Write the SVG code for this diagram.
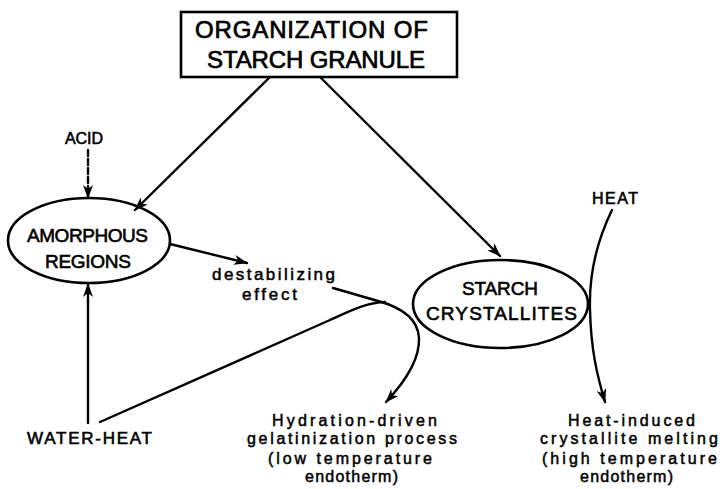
<svg xmlns="http://www.w3.org/2000/svg" width="720" height="489" viewBox="0 0 720 489">
<defs>
<marker id="ah" viewBox="0 0 14 10" refX="13" refY="5" markerWidth="14" markerHeight="10" markerUnits="userSpaceOnUse" orient="auto">
<path d="M0,0 L14,5 L0,10 L4,5 z" fill="#000"/>
</marker>
<style>
.l{font-family:"Liberation Sans",Arial,sans-serif;fill:#000;stroke:#000;stroke-width:0.6}
.h{stroke-width:0.7}
.w{stroke-width:0.5}
.s{fill:none;stroke:#000;stroke-width:2.6}
.c{fill:none;stroke:#000;stroke-width:2.4;stroke-linecap:round}
</style>
</defs>
<rect width="720" height="489" fill="#fff"/>
<g id="connectors">
<line class="c" x1="270" y1="77" x2="135" y2="210" marker-end="url(#ah)"/>
<line class="c" x1="320" y1="77" x2="500" y2="256" marker-end="url(#ah)"/>
<line class="c" x1="88" y1="150" x2="88" y2="198" stroke-dasharray="6,3" marker-end="url(#ah)"/>
<line class="c" x1="170" y1="244" x2="247" y2="263" marker-end="url(#ah)"/>
<line class="c" x1="88" y1="423" x2="88" y2="284" marker-end="url(#ah)"/>
<path class="c" d="M100,422 L330,320 C350,311 368,302 385,302"/>
<path class="c" d="M333,288 L378,301 C400,307 418,318 419,338 C420,362 402,385 386,402" marker-end="url(#ah)"/>
<path class="c" d="M612,210 C595,245 589,280 590,310 C591,350 597,375 605,402" marker-end="url(#ah)"/>
</g>
<g id="title">
<rect class="s" x="181" y="12" width="276" height="65"/>
<text class="l h" x="195" y="38" font-size="24" textLength="233" lengthAdjust="spacing">ORGANIZATION OF</text>
<text class="l h" x="207" y="68" font-size="24" textLength="218" lengthAdjust="spacing">STARCH GRANULE</text>
</g>
<g id="amorphous">
<ellipse class="s" cx="89" cy="240.5" rx="81" ry="42.5"/>
<text class="l" x="27" y="242" font-size="19" textLength="121" lengthAdjust="spacing">AMORPHOUS</text>
<text class="l" x="45" y="268" font-size="19" textLength="86" lengthAdjust="spacing">REGIONS</text>
</g>
<g id="starch">
<ellipse class="s" cx="500.5" cy="304" rx="87.5" ry="44"/>
<text class="l" x="462" y="295" font-size="19" textLength="76" lengthAdjust="spacing">STARCH</text>
<text class="l" x="426" y="320" font-size="19" textLength="151" lengthAdjust="spacing">CRYSTALLITES</text>
</g>
<g id="acid">
<text class="l" x="65" y="144" font-size="16" textLength="38" lengthAdjust="spacing">ACID</text>
</g>
<g id="heat">
<text class="l" x="592" y="204" font-size="16" textLength="46" lengthAdjust="spacing">HEAT</text>
</g>
<g id="water-heat">
<text class="l" x="27" y="444" font-size="17" textLength="125" lengthAdjust="spacing">WATER-HEAT</text>
</g>
<g id="destabilizing">
<text class="l w" x="212" y="280" font-size="17" textLength="123" lengthAdjust="spacing">destabilizing</text>
<text class="l w" x="242" y="300" font-size="17" textLength="55" lengthAdjust="spacing">effect</text>
</g>
<g id="hydration">
<text class="l w" x="272" y="426" font-size="16" textLength="165" lengthAdjust="spacing">Hydration-driven</text>
<text class="l w" x="247" y="444" font-size="16" textLength="210" lengthAdjust="spacing">gelatinization process</text>
<text class="l w" x="268" y="464" font-size="16" textLength="164" lengthAdjust="spacing">(low temperature</text>
<text class="l w" x="305" y="482" font-size="16" textLength="93" lengthAdjust="spacing">endotherm)</text>
</g>
<g id="melting">
<text class="l w" x="568" y="426" font-size="16" textLength="127" lengthAdjust="spacing">Heat-induced</text>
<text class="l w" x="540" y="444" font-size="16" textLength="178" lengthAdjust="spacing">crystallite melting</text>
<text class="l w" x="542" y="464" font-size="16" textLength="175" lengthAdjust="spacing">(high temperature</text>
<text class="l w" x="580" y="482" font-size="16" textLength="93" lengthAdjust="spacing">endotherm)</text>
</g>
</svg>
